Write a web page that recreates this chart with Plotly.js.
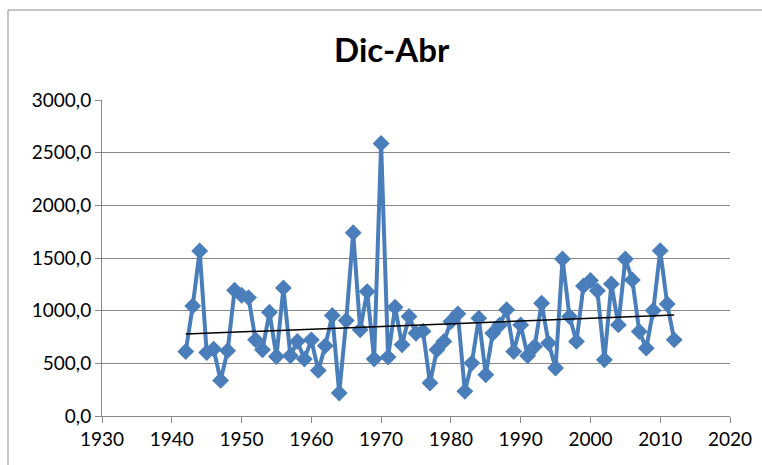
<!DOCTYPE html>
<html><head><meta charset="utf-8">
<script src="https://cdn.plot.ly/plotly-3.0.1.min.js"></script>
<style>html,body{margin:0;padding:0;background:#fff;overflow:hidden}#c{width:762px;height:465px}</style>
</head><body><div id="c"></div>
<script>
const years = [];
for (let y = 1942; y <= 2012; y++) years.push(y);
const values = [613,1045,1567,603,635,338,619,1194,1147,1124,
  723,629,985,565,1216,572,708,540,723,433,
  666,954,218,906,1740,818,1181,540,2587,559,
  1033,676,944,786,805,313,629,708,897,970,
  234,502,929,392,786,865,1008,613,865,572,
  660,1071,692,455,1491,944,708,1235,1286,1188,
  534,1254,865,1491,1292,802,644,1001,1570,1064,723];
const yTickVals = [0,500,1000,1500,2000,2500,3000];
const xTickVals = [1930,1940,1950,1960,1970,1980,1990,2000,2010,2020];

// linear trendline (least squares)
const n = years.length;
let sx=0, sy=0, sxx=0, sxy=0;
for (let i=0;i<n;i++){sx+=years[i];sy+=values[i];sxx+=years[i]*years[i];sxy+=years[i]*values[i];}
const slope = (n*sxy - sx*sy)/(n*sxx - sx*sx);
const icpt = (sy - slope*sx)/n;
const trendX = [years[0], years[n-1]];
const trendY = trendX.map(x => icpt + slope*x);

const font = "Lato, 'Open Sans', sans-serif";
const data = [
  {x: years, y: values, type: 'scatter', mode: 'lines+markers',
   line: {color: '#4A7EBB', width: 4},
   marker: {symbol: 'diamond', size: 13, color: '#4A7EBB'},
   showlegend: false, hoverinfo: 'x+y'},
  {x: trendX, y: trendY, type: 'scatter', mode: 'lines',
   line: {color: '#000', width: 1.5}, showlegend: false}
];
const layout = {
  width: 762, height: 465,
  margin: {l: 102, r: 32, t: 100, b: 49},
  paper_bgcolor: '#fff', plot_bgcolor: '#fff',
  separators: ',.',
  title: {text: '<b>Dic-Abr</b>', font: {family: font, size: 33, color: '#000'},
          x: 0.514, xanchor: 'center', y: 0.892, yanchor: 'middle'},
  xaxis: {range: [1930, 2020], tickvals: xTickVals, ticks: 'outside', ticklen: 6,
          tickcolor: '#888', showline: true, linecolor: '#888', linewidth: 1,
          showgrid: false, zeroline: false,
          tickfont: {family: font, size: 19, color: '#000'}},
  yaxis: {range: [0, 3000], tickvals: yTickVals, tickformat: '.1f', ticks: 'outside', ticklen: 6,
          ticksuffix: '\u2002\u00a0',
          tickcolor: '#888', showline: true, linecolor: '#888', linewidth: 1,
          showgrid: true, gridcolor: '#888', gridwidth: 1, zeroline: false,
          tickfont: {family: font, size: 19, color: '#000'}},
  shapes: [{type: 'rect', xref: 'paper', yref: 'paper',
            x0: -0.1497, x1: 1.3, y0: -0.5, y1: 1.2848,
            line: {color: '#8c8c8c', width: 1}, fillcolor: 'rgba(0,0,0,0)', layer: 'below'}]
};
Plotly.newPlot('c', data, layout, {displayModeBar: false, staticPlot: true});
</script></body></html>
